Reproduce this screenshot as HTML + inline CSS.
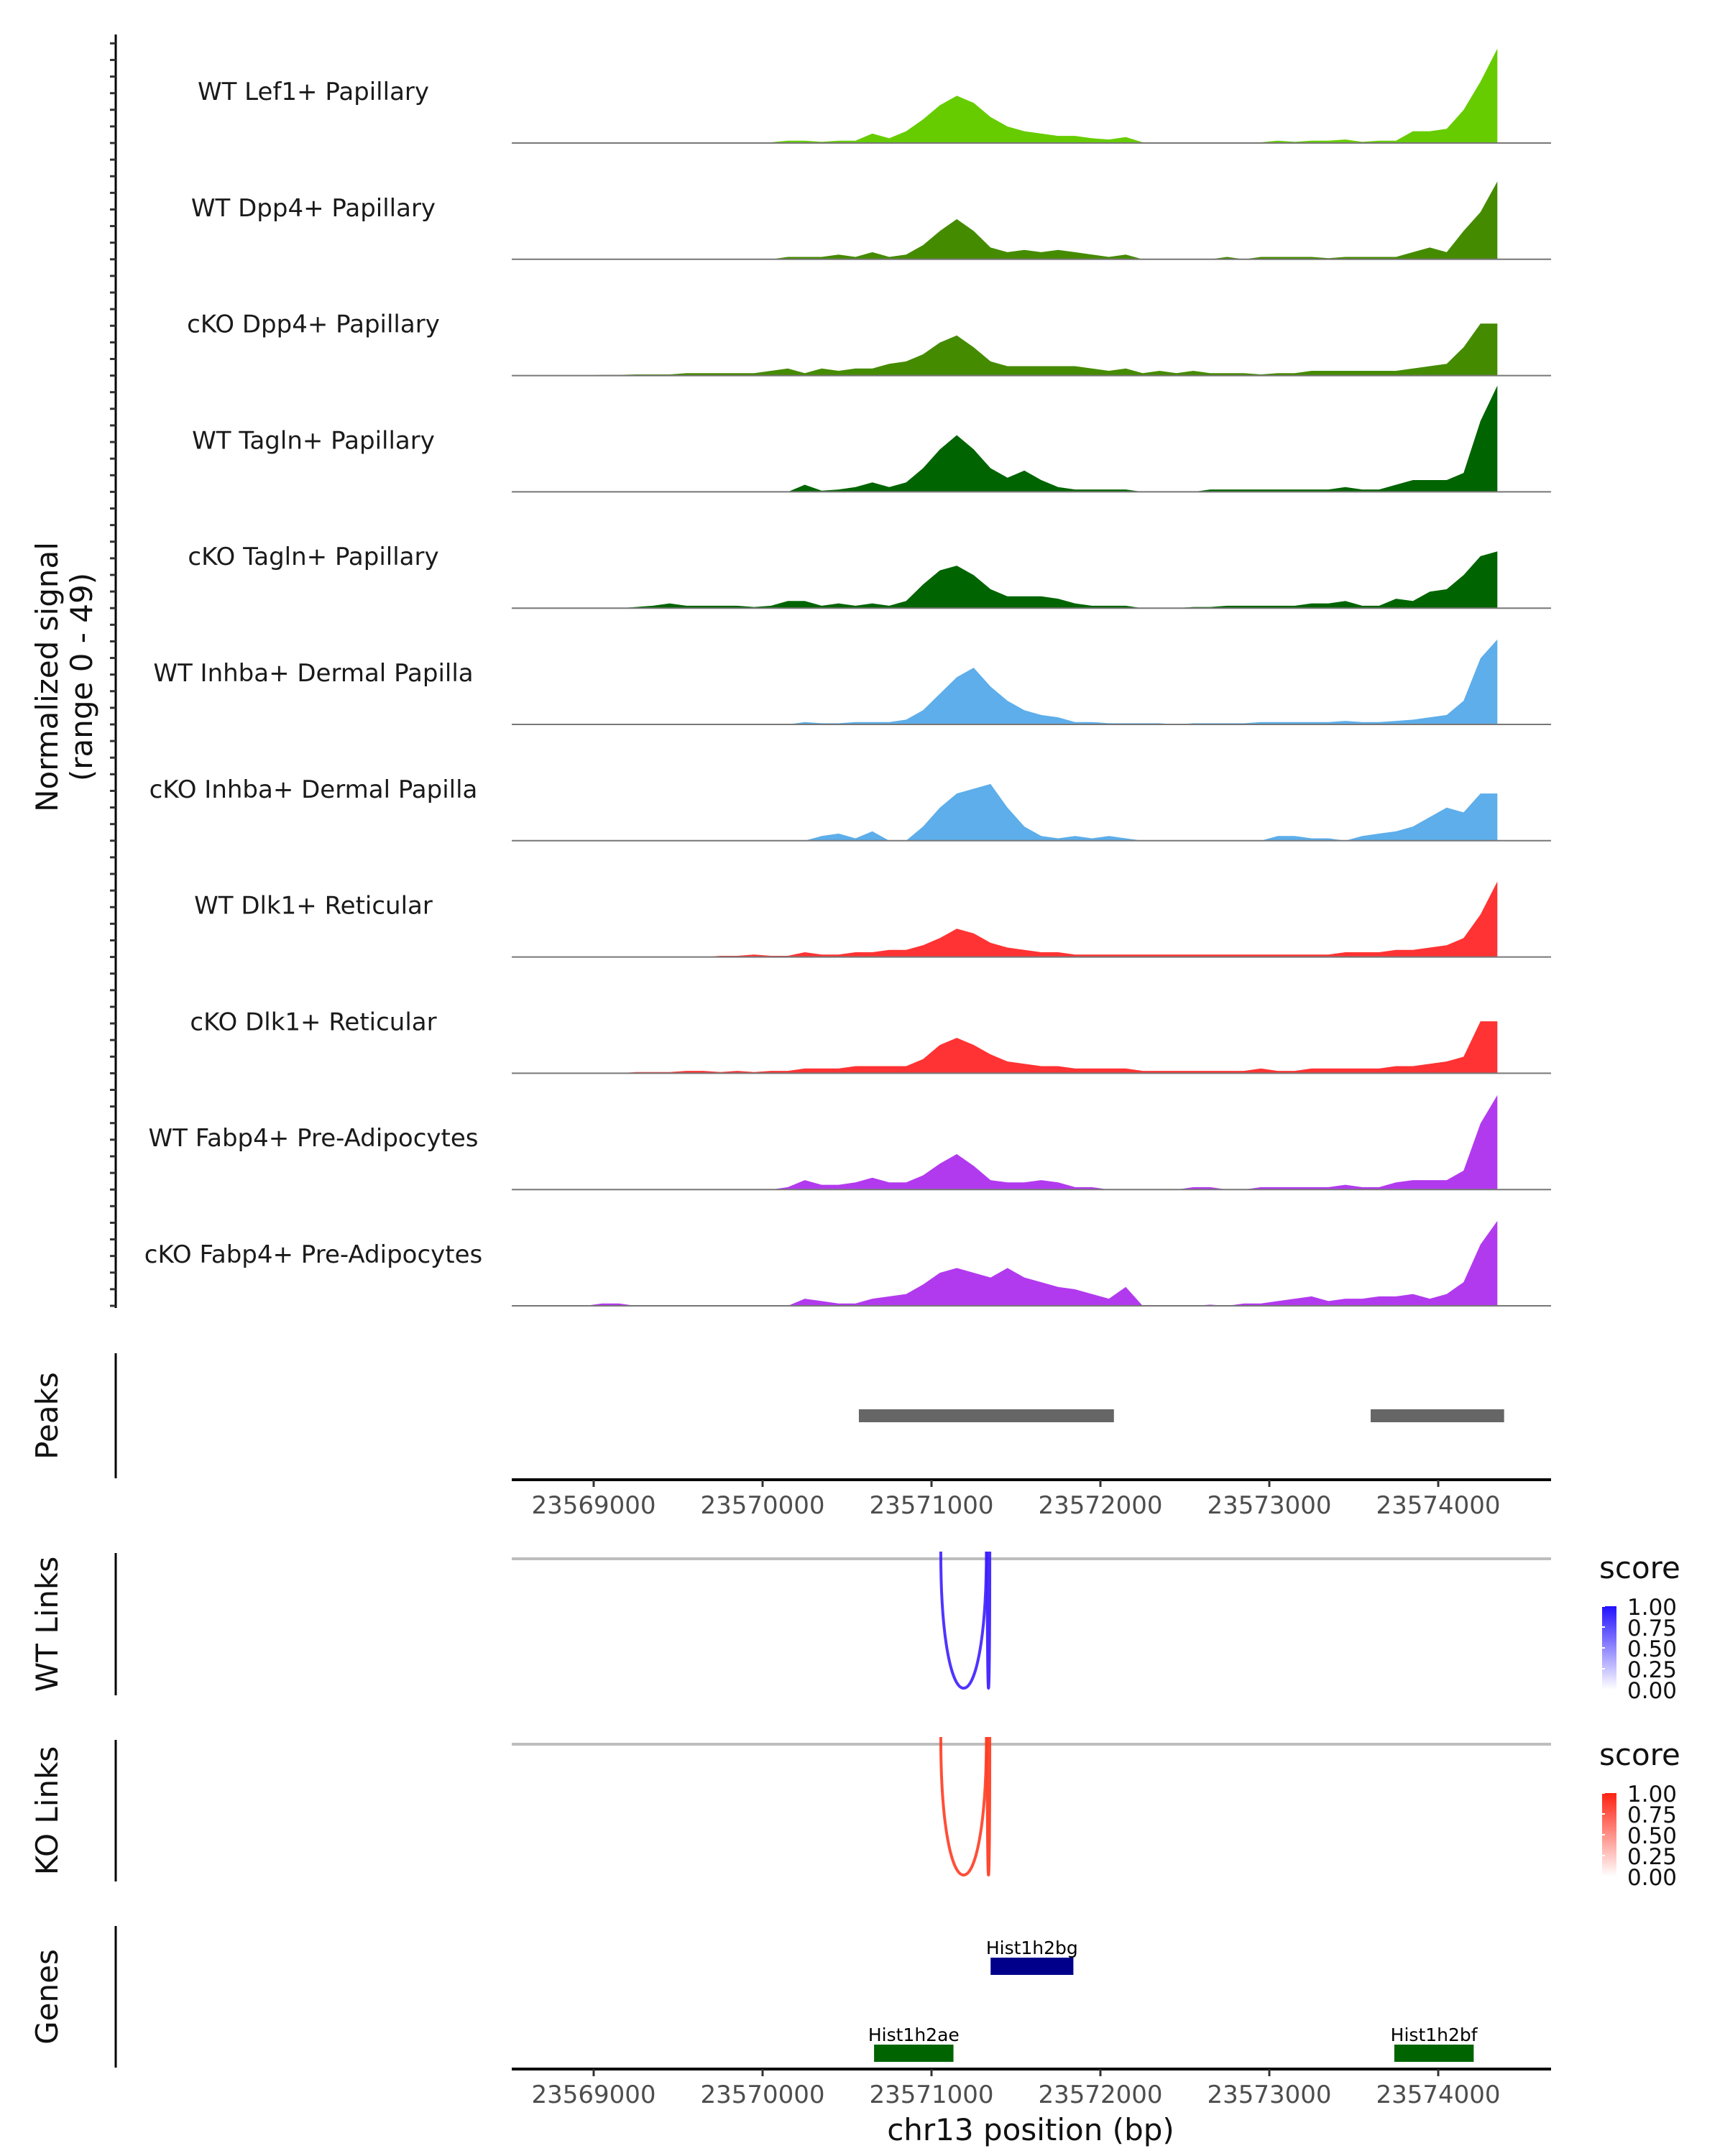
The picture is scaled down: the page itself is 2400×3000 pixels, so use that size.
<!DOCTYPE html>
<html><head><meta charset="utf-8">
<style>
html,body{margin:0;padding:0;background:#fff;}
svg{display:block;font-family:"DejaVu Sans","Liberation Sans",sans-serif;}
</style></head>
<body>
<svg id="chart" width="2400" height="3000" viewBox="0 0 2400 3000" xmlns="http://www.w3.org/2000/svg">
<defs>
<linearGradient id="gblue" x1="0" y1="1" x2="0" y2="0"><stop offset="0" stop-color="#ffffff"/><stop offset="1" stop-color="#2211ff"/></linearGradient>
<linearGradient id="gred" x1="0" y1="1" x2="0" y2="0"><stop offset="0" stop-color="#ffffff"/><stop offset="1" stop-color="#ff2211"/></linearGradient>
</defs>
<g id="root"></g>
</svg>
<script>
// ---- data ----
const trackNames = ["WT Lef1+ Papillary","WT Dpp4+ Papillary","cKO Dpp4+ Papillary","WT Tagln+ Papillary","cKO Tagln+ Papillary","WT Inhba+ Dermal Papilla","cKO Inhba+ Dermal Papilla","WT Dlk1+ Reticular","cKO Dlk1+ Reticular","WT Fabp4+ Pre-Adipocytes","cKO Fabp4+ Pre-Adipocytes"];
const trackColors = ["#66cc00","#458b00","#458b00","#006400","#006400","#5daeea","#5daeea","#ff3333","#ff3333","#b23aee","#b23aee"];
const binStart = 23568500;
const binSize = 100;
const sigLef1 = [0,0,0.3,0.3,0.3,0.3,0.3,0.3,0.3,0.3,0.3,0.3,0.3,0.3,0.3,0.3,1,1,0.5,1,1,4,2,5,10,16,20,17,11,7,5,4,3,3,2,1.5,2.5,0.3,0.3,0.3,0.3,0.3,0.3,0.3,0.3,1,0.5,1,1,1.5,0.5,1,1,5,5,6,14,26,40];
const sigWtDpp4 = [0,0,0,0,0,0,0,0,0,0,0,0,0,0,0,0,1,1,1,2,1,3,1,2,6,12,17,12,5,3,4,3,4,3,2,1,2,0,0,0,0,0,1,0,1,1,1,1,0.5,1,1,1,1,3,5,3,12,20,33];
const sigCkoDpp4 = [0,0,0,0,0,0.3,0.3,0.5,0.5,0.5,1,1,1,1,1,2,3,1,3,2,3,3,5,6,9,14,17,12,6,4,4,4,4,4,3,2,3,1,2,1,2,1,1,1,0.5,1,1,2,2,2,2,2,2,3,4,5,12,22,22];
const sigWtTagln = [0,0,0,0,0,0,0,0,0,0,0,0,0,0,0,0,0,3,0.5,1,2,4,2,4,10,18,24,18,10,6,9,5,2,1,1,1,1,0,0,0,0,1,1,1,1,1,1,1,1,2,1,1,3,5,5,5,8,30,45];
const sigCkoTagln = [0,0,0,0,0,0,0,0.5,1,2,1,1,1,1,0.5,1,3,3,1,2,1,2,1,3,10,16,18,14,8,5,5,5,4,2,1,1,1,0,0,0,0.5,0.5,1,1,1,1,1,2,2,3,1,1,4,3,7,8,14,22,24];
const sigWtInhba = [0,0,0,0,0,0,0,0,0,0,0,0,0,0,0,0,0,1,0.5,0.5,1,1,1,2,6,13,20,24,16,10,6,4,3,1,1,0.5,0.5,0.5,0.5,0,0.5,0.5,0.5,0.5,1,1,1,1,1,1.5,1,1,1.5,2,3,4,10,28,36];
const sigCkoInhba = [0,0,0,0,0,0,0,0,0,0,0,0,0,0,0,0,0,0,2,3,1,4,0,0,6,14,20,22,24,14,6,2,1,2,1,2,1,0,0,0,0,0,0,0,0,2,2,1,1,0,2,3,4,6,10,14,12,20,20];
const sigWtDlk1 = [0,0,0,0,0,0,0,0,0,0,0,0,0.5,0.5,1,0.5,0.5,2,1,1,2,2,3,3,5,8,12,10,6,4,3,2,2,1,1,1,1,1,1,1,1,1,1,1,1,1,1,1,1,2,2,2,3,3,4,5,8,18,32];
const sigCkoDlk1 = [0,0,0,0,0,0,0,0.5,0.5,0.5,1,1,0.5,1,0.5,1,1,2,2,2,3,3,3,3,6,12,15,12,8,5,4,3,3,2,2,2,2,1,1,1,1,1,1,1,2,1,1,2,2,2,2,2,3,3,4,5,7,22,22];
const sigWtFabp4 = [0,0,0,0,0,0,0,0,0,0,0,0,0,0,0,0,1,4,2,2,3,5,3,3,6,11,15,10,4,3,3,4,3,1,1,0,0,0,0,0,1,1,0,0,1,1,1,1,1,2,1,1,3,4,4,4,8,28,40];
const sigCkoFabp4 = [0,0,0,0,0,1,1,0,0,0,0,0,0,0,0,0,0,3,2,1,1,3,4,5,9,14,16,14,12,16,12,10,8,7,5,3,8,0,0,0,0,0.5,0,1,1,2,3,4,2,3,3,4,4,5,3,5,10,26,36];
const signals = [sigLef1,sigWtDpp4,sigCkoDpp4,sigWtTagln,sigCkoTagln,sigWtInhba,sigCkoInhba,sigWtDlk1,sigCkoDlk1,sigWtFabp4,sigCkoFabp4];
const signalMax = 49;
const signalEnd = 23574350;
const peakStarts = [23570570, 23573600];
const peakEnds = [23572080, 23574390];
const xTicks = [23569000,23570000,23571000,23572000,23573000,23574000];
const wtLinkStarts = [23571055, 23571330];
const wtLinkEnds = [23571325, 23571345];
const wtLinkScores = [0.85, 0.9];
const koLinkStarts = [23571055, 23571330];
const koLinkEnds = [23571325, 23571345];
const koLinkScores = [0.85, 0.9];
const legendTicks = ["1.00","0.75","0.50","0.25","0.00"];
const geneNames = ["Hist1h2bg","Hist1h2ae","Hist1h2bf"];
const geneStarts = [23571350, 23570660, 23573740];
const geneEnds = [23571840, 23571130, 23574210];
const geneRows = [0, 1, 1];
const geneColors = ["#00008b","#006400","#006400"];

// ---- scales ----
const plotL = 712, plotR = 2158;
const domL = 23568515, domR = 23574668;
const x = bp => plotL + (bp - domL) / (domR - domL) * (plotR - plotL);
const base0 = 199, trackStep = 161.8, trackH = 161;
const yTrack = (i, v) => base0 + i * trackStep - v / signalMax * trackH;

const NS = "http://www.w3.org/2000/svg";
const root = document.getElementById('root');
function mk(tag, attrs, parent, text) {
  const e = document.createElementNS(NS, tag);
  for (const k in attrs) e.setAttribute(k, attrs[k]);
  if (text !== undefined) e.textContent = text;
  (parent || root).appendChild(e);
  return e;
}

let ax = mk('line', {x1:161,y1:48,x2:161,y2:1820,stroke:'#000','stroke-width':3});


for (let i = 0; i < 11; i++) {
  const b = base0 + i * trackStep;
  for (let k = 0; k < 7; k++) {
    const t = mk('line', {x1:153,y1:b - k*trackStep/7,x2:161,y2:b - k*trackStep/7,stroke:'#333','stroke-width':3});
    
    
  }
}
let yt = mk('text', {x:0,y:0,'font-size':42,'text-anchor':'middle',transform:'translate(80,942) rotate(-90)',fill:'#111'}, root, 'Normalized signal');


let yt2 = mk('text', {x:0,y:0,'font-size':42,'text-anchor':'middle',transform:'translate(128,942) rotate(-90)',fill:'#111'}, root, '(range 0 - 49)');



signals.forEach((s, i) => {
  const g = mk('g', {});
  
  
  const b = base0 + i * trackStep;
  let d = 'M' + x(binStart).toFixed(1) + ',' + b;
  s.forEach((v, j) => {
    let c = binStart + (j + 0.5) * binSize;
    if (j === s.length - 1) c = signalEnd;
    d += ' L' + x(c).toFixed(1) + ',' + yTrack(i, v).toFixed(1);
  });
  d += ' L' + x(signalEnd).toFixed(1) + ',' + b + ' Z';
  const p = mk('path', {d:d, fill:trackColors[i]}, g);
  
  
  const bl = mk('line', {x1:plotL,y1:b,x2:plotR,y2:b,stroke:'#777','stroke-width':2}, g);
  
  
  const lb = mk('text', {x:436,y:b - 60,'font-size':34,'text-anchor':'middle',fill:'#1a1a1a'}, g, trackNames[i]);
  
  
});

function sidePanel(name, label, y1, y2) {
  const l = mk('line', {x1:161,y1:y1,x2:161,y2:y2,stroke:'#000','stroke-width':3});
  
  
  const t = mk('text', {x:0,y:0,'font-size':42,'text-anchor':'middle',transform:'translate(80,' + ((y1+y2)/2) + ') rotate(-90)',fill:'#111'}, root, label);
  
  
}
function xAxis(name, y) {
  const l = mk('line', {x1:plotL,y1:y,x2:plotR,y2:y,stroke:'#000','stroke-width':4});
  
  
  xTicks.forEach(v => {
    const t = mk('line', {x1:x(v),y1:y,x2:x(v),y2:y+10,stroke:'#333','stroke-width':3});
    
    
    const tl = mk('text', {x:x(v),y:y+47,'font-size':34,'text-anchor':'middle',fill:'#4d4d4d'}, root, String(v));
    
    
  });
}

sidePanel('peaks', 'Peaks', 1883, 2057);
peakStarts.forEach((s, i) => {
  const r = mk('rect', {x:x(s),y:1961,width:x(peakEnds[i]) - x(s),height:18,fill:'#666'});
  
  
});
xAxis('peaks-x-axis', 2059);

function linkPanel(name, label, y1, y2, lineY, bottom, starts, ends, scores, colorHi, grad) {
  sidePanel(name, label, y1, y2);
  const gl = mk('line', {x1:plotL,y1:lineY,x2:plotR,y2:lineY,stroke:'#bdbdbd','stroke-width':4});
  
  
  starts.forEach((s, i) => {
    const xa = x(s), xb = x(ends[i]);
    const depth = (bottom - lineY);
    const d = 'M' + xa + ',' + (lineY - 10) + ' C' + xa + ',' + (lineY + depth*1.33) + ' ' + xb + ',' + (lineY + depth*1.33) + ' ' + xb + ',' + (lineY - 10);
    const p = mk('path', {d:d,fill:'none',stroke:colorHi,'stroke-width':4,'stroke-opacity':0.3 + 0.7*scores[i]});
    
    
  });
  const lt = mk('text', {x:2225,y:y1 + 35,'font-size':42,fill:'#111'}, root, 'score');
  
  
  const barTop = y1 + 74, barH = 116;
  const cb = mk('rect', {x:2229,y:barTop,width:20,height:barH,fill:grad});
  
  
  legendTicks.forEach((t, k) => {
    const yy = barTop + k * barH / 4;
    const tk = mk('text', {x:2264,y:yy + 12,'font-size':31,fill:'#111'}, root, t);
    
    
    const tm = mk('line', {x1:2229,y1:yy,x2:2233,y2:yy,stroke:'#fff','stroke-width':2});
    
    
  });
}
linkPanel('wt-links', 'WT Links', 2161, 2359, 2169, 2352, wtLinkStarts, wtLinkEnds, wtLinkScores, '#3a1cff', 'url(#gblue)');
linkPanel('ko-links', 'KO Links', 2421, 2618, 2427, 2612, koLinkStarts, koLinkEnds, koLinkScores, '#ff3a20', 'url(#gred)');

sidePanel('genes', 'Genes', 2680, 2877);
geneNames.forEach((n, i) => {
  const yc = geneRows[i] === 0 ? 2736 : 2857;
  const g = mk('g', {});
  
  
  const r = mk('rect', {x:x(geneStarts[i]),y:yc - 12,width:x(geneEnds[i]) - x(geneStarts[i]),height:24,fill:geneColors[i]}, g);
  
  
  const t = mk('text', {x:(x(geneStarts[i]) + x(geneEnds[i]))/2,y:yc - 17,'font-size':25,'text-anchor':'middle',fill:'#000'}, g, n);
  
  
});
xAxis('genes-x-axis', 2879);
const xt = mk('text', {x:1434,y:2978,'font-size':42,'text-anchor':'middle',fill:'#111'}, root, 'chr13 position (bp)');


</script>
</body></html>
